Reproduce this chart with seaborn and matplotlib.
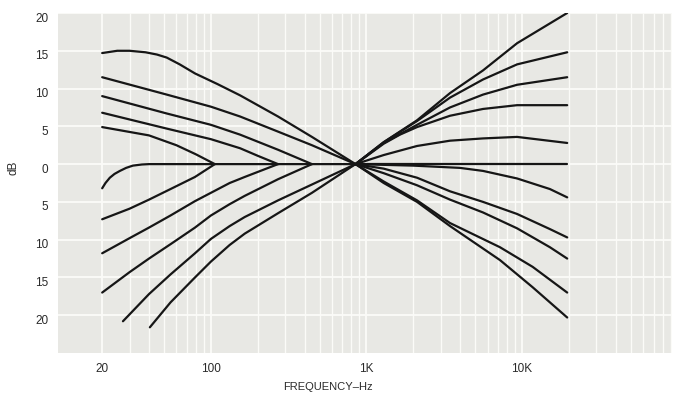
import numpy as np
import pandas as pd
import matplotlib
matplotlib.use("Agg")
import matplotlib.pyplot as plt
import matplotlib.ticker as mticker
from matplotlib.transforms import ScaledTranslation
import seaborn as sns

# ---- data (frequency in Hz, level in dB) ----
b15_f = [20, 25, 30, 38, 45, 52, 63, 79, 110, 154, 270, 446, 850]
b15_db = [14.7, 15.0, 15.0, 14.8, 14.5, 14.1, 13.2, 12.0, 10.6, 9.1, 6.3, 3.6, 0]
b12_f = [20, 52, 100, 154, 270, 446, 850]
b12_db = [11.5, 9.2, 7.6, 6.3, 4.3, 2.5, 0]
b9_f = [20, 52, 100, 154, 270, 446]
b9_db = [9.0, 6.7, 5.2, 3.9, 1.9, 0]
b7_f = [20, 52, 100, 154, 200, 270]
b7_db = [6.8, 4.7, 3.3, 2.1, 1.1, 0]
b5_f = [20, 40, 60, 80, 106]
b5_db = [4.9, 3.8, 2.5, 1.3, 0]

c3_f = [20, 21, 22.4, 24, 26, 28.5, 31.5, 36, 40, 850]
c3_db = [-3.2, -2.5, -1.8, -1.3, -0.9, -0.5, -0.2, -0.05, 0, 0]
c7_f = [20, 30, 40, 55, 79, 106]
c7_db = [-7.3, -5.9, -4.7, -3.3, -1.7, 0]
c12_f = [20, 30, 40, 55, 79, 132, 165, 270]
c12_db = [-11.8, -9.8, -8.4, -6.8, -4.9, -2.5, -1.7, 0]
c16_f = [20, 30, 40, 55, 79, 100, 132, 165, 270, 446]
c16_db = [-17.0, -14.3, -12.5, -10.6, -8.4, -6.8, -5.3, -4.2, -2.0, 0]
c20a_f = [27.2, 40, 55, 79, 100, 132, 165, 270, 446, 850]
c20a_db = [-20.8, -17.2, -14.6, -11.8, -9.9, -8.2, -7.0, -4.8, -2.7, 0]
c20b_f = [40.5, 55, 79, 100, 132, 165, 270, 446, 850]
c20b_db = [-21.6, -18.3, -15.0, -12.9, -10.7, -9.2, -6.5, -3.8, 0]

t20_f = [850, 1290, 2113, 3443, 5610, 9290, 19500]
t20_db = [0, 2.9, 5.8, 9.4, 12.4, 16.0, 20.0]
t15_f = [850, 1290, 2113, 3443, 5610, 9290, 19500]
t15_db = [0, 2.9, 5.7, 8.8, 11.2, 13.2, 14.8]
t11_f = [850, 1290, 2113, 3443, 5610, 9290, 19500]
t11_db = [0, 2.8, 5.2, 7.5, 9.2, 10.5, 11.5]
t8_f = [850, 1290, 1640, 2113, 3443, 5610, 9290, 19500]
t8_db = [0, 2.7, 3.9, 4.9, 6.4, 7.3, 7.8, 7.8]
t3_f = [850, 1290, 2113, 3443, 5610, 9290, 19500]
t3_db = [0, 1.2, 2.4, 3.1, 3.4, 3.6, 2.8]
t0_f = [850, 19500]
t0_db = [0, 0]
tm4_f = [850, 2000, 3990, 5610, 9290, 15100, 19500]
tm4_db = [0, -0.2, -0.5, -0.9, -1.9, -3.3, -4.4]
tm10_f = [850, 1290, 2113, 3443, 5610, 9290, 15100, 19500]
tm10_db = [0, -0.6, -1.8, -3.6, -5.0, -6.6, -8.6, -9.7]
tm12_f = [850, 1290, 2113, 3443, 5610, 9290, 15100, 19500]
tm12_db = [0, -1.2, -2.8, -4.7, -6.4, -8.5, -11.0, -12.5]
tm17_f = [850, 1290, 2113, 3443, 7210, 11700, 19500]
tm17_db = [0, -2.3, -4.8, -7.8, -11.0, -13.6, -17.0]
tm20_f = [850, 1290, 2113, 3443, 7210, 11700, 19500]
tm20_db = [0, -2.5, -5.0, -8.2, -12.7, -16.3, -20.3]

x_ticks = [20, 100, 1000, 10000]
x_labels = ["20", "100", "1K", "10K"]
y_ticks = [20, 15, 10, 5, 0, -5, -10, -15, -20]
y_labels = ["20", "15", "10", "5", "0", "5", "10", "15", "20"]

curves = {
    "b15": (b15_f, b15_db), "b12": (b12_f, b12_db), "b9": (b9_f, b9_db),
    "b7": (b7_f, b7_db), "b5": (b5_f, b5_db),
    "c3": (c3_f, c3_db), "c7": (c7_f, c7_db), "c12": (c12_f, c12_db),
    "c16": (c16_f, c16_db), "c20a": (c20a_f, c20a_db), "c20b": (c20b_f, c20b_db),
    "t20": (t20_f, t20_db), "t15": (t15_f, t15_db), "t11": (t11_f, t11_db),
    "t8": (t8_f, t8_db), "t3": (t3_f, t3_db), "t0": (t0_f, t0_db),
    "tm4": (tm4_f, tm4_db), "tm10": (tm10_f, tm10_db), "tm12": (tm12_f, tm12_db),
    "tm17": (tm17_f, tm17_db), "tm20": (tm20_f, tm20_db),
}
rows = []
for name, (fs, dbs) in curves.items():
    for i, (f, d) in enumerate(zip(fs, dbs)):
        rows.append({"curve": name, "order": i, "freq": f, "db": d})
df = pd.DataFrame(rows)

sns.set_theme(style="darkgrid", rc={
    "axes.facecolor": "#e8e8e4",
    "grid.color": "#fbfbf8",
    "grid.linewidth": 1.3,
})
plt.rcParams["font.family"] = ["Liberation Sans", "DejaVu Sans"]

fig = plt.figure(figsize=(6.79, 3.94), dpi=100)
ax = fig.add_axes([58 / 679, 1 - 353 / 394, (672 - 58) / 679, (353 - 13) / 394])

sns.lineplot(data=df, x="freq", y="db", units="curve", estimator=None,
             sort=False, color="#161616", linewidth=1.6, ax=ax, legend=False)
for ln in ax.get_lines():
    ln.set_solid_joinstyle("round")
    ln.set_solid_capstyle("round")

ax.set_xscale("log")
ax.set_xlim(10.4, 92000)
ax.set_ylim(-25, 20)

ax.xaxis.set_major_locator(mticker.FixedLocator(x_ticks))
ax.xaxis.set_major_formatter(mticker.FixedFormatter(x_labels))
ax.xaxis.set_minor_locator(mticker.LogLocator(base=10, subs=np.arange(2, 10), numticks=20))
ax.xaxis.set_minor_formatter(mticker.NullFormatter())
ax.yaxis.set_major_locator(mticker.FixedLocator(y_ticks))
ax.yaxis.set_major_formatter(mticker.FixedFormatter(y_labels))

ax.grid(which="major", axis="both", color="#fbfbf8", linewidth=1.3)
ax.grid(which="minor", axis="x", color="#fbfbf8", linewidth=1.0)

ax.tick_params(axis="both", which="both", length=0, labelsize=8.5, labelcolor="#2a2a2a")
ax.tick_params(axis="y", pad=7)
ax.tick_params(axis="x", pad=7)

for tick in ax.yaxis.get_major_ticks():
    tick.label1.set_transform(tick.label1.get_transform() +
                              ScaledTranslation(0, -4 / 100, fig.dpi_scale_trans))

ax.set_xlabel("FREQUENCY\u2013Hz", fontsize=8, color="#2a2a2a")
ax.xaxis.set_label_coords(0.44, -0.085)
ax.set_ylabel("dB", fontsize=8.5, color="#2a2a2a")
ax.yaxis.set_label_coords(-0.062, 0.545)

for s in ax.spines.values():
    s.set_visible(False)

fig.savefig("out.png", dpi=100)
